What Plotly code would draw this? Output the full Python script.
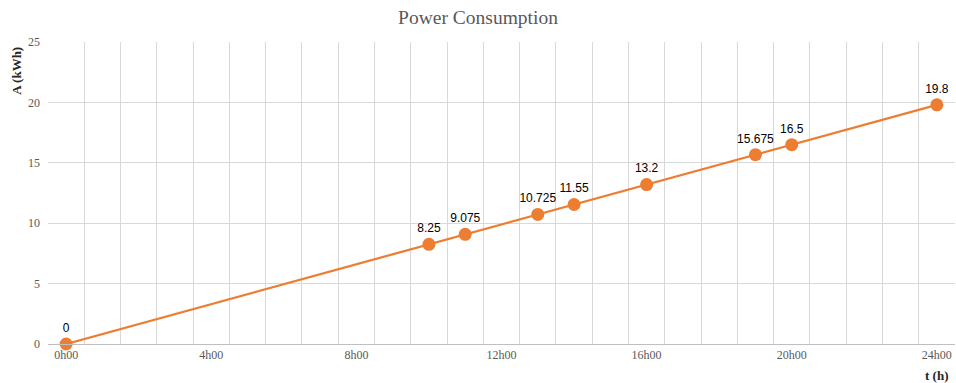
import plotly.graph_objects as go

hours = [0, 10, 11, 13, 14, 16, 19, 20, 24]
energy = [0, 8.25, 9.075, 10.725, 11.55, 13.2, 15.675, 16.5, 19.8]
labels = ["0", "8.25", "9.075", "10.725", "11.55", "13.2", "15.675", "16.5", "19.8"]
x_tick_vals = [0, 4, 8, 12, 16, 20, 24]
x_tick_text = ["0h00", "4h00", "8h00", "12h00", "16h00", "20h00", "24h00"]

serif = "Liberation Serif, Times New Roman, serif"

fig = go.Figure()
fig.add_trace(go.Scatter(
    x=hours, y=energy, mode="lines+markers+text",
    text=labels, textposition="top center",
    textfont=dict(family="Liberation Sans, Arial, sans-serif", size=12, color="#000000"),
    line=dict(color="#ED7D31", width=2.25),
    marker=dict(color="#ED7D31", size=13),
    cliponaxis=False,
    showlegend=False,
))

fig.update_layout(
    width=956, height=383,
    margin=dict(l=48, r=1, t=42, b=39, autoexpand=False),
    paper_bgcolor="white", plot_bgcolor="white",
    title=dict(text="Power Consumption", x=0.5, xanchor="center", y=0.955, yanchor="middle",
               font=dict(family=serif, size=19.5, color="#595959")),
    xaxis=dict(
        range=[-0.5, 24.5], tickvals=x_tick_vals, ticktext=x_tick_text,
        showgrid=False, zeroline=False, showline=True, linecolor="#bfbfbf", linewidth=1,
        ticks="", automargin=False, tickfont=dict(family=serif, size=12, color="#595959"),
        minor=dict(tick0=0.5, dtick=1, showgrid=True, gridcolor="#d9d9d9", gridwidth=1, ticks=""),
    ),
    yaxis=dict(
        range=[0, 25], dtick=5, showgrid=True, gridcolor="#d9d9d9", gridwidth=1,
        zeroline=False, showline=False, ticks="", ticklen=0, automargin=False,
        ticklabelstandoff=7,
        tickfont=dict(family=serif, size=12, color="#595959"),
    ),
    annotations=[
        dict(text="<b>A (kWh)</b>", textangle=-90, xref="paper", yref="paper",
             x=-0.034, y=0.905, xanchor="center", yanchor="middle", showarrow=False,
             font=dict(family=serif, size=13, color="#262626")),
        dict(text="<b>t (h)</b>", xref="x", yref="paper", x=24, y=-0.103,
             xanchor="center", yanchor="middle", showarrow=False,
             font=dict(family=serif, size=13, color="#262626")),
    ],
)

fig.write_html("out.html", config={"displayModeBar": False},
               post_script="document.body.style.margin='0';")
